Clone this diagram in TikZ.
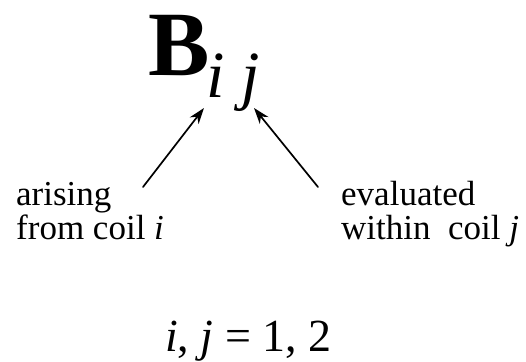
\documentclass[tikz,border=0pt]{standalone}
\usepackage{fontspec}
\setmainfont{Liberation Serif}
\usetikzlibrary{arrows.meta}

\begin{document}
\begin{tikzpicture}[x=1pt,y=-1pt]
\tikzset{
  labeltext/.style={inner sep=0pt,anchor=base west,font=\fontsize{35}{35}\selectfont},
  pointer/.style={draw=black,line width=1.7pt,line cap=round,-{Stealth[length=16pt,width=11pt,inset=5pt]}}
}
\useasboundingbox (0,0) rectangle (526,361);
\node[inner sep=0pt,anchor=base west,font=\fontsize{92}{92}\selectfont\bfseries] (n_B) at (148,75) {B};
\node[inner sep=0pt,anchor=base west,font=\fontsize{66}{66}\selectfont\itshape] (n_ij) at (206,97) {i j};
\node[labeltext] (n_arise1) at (16,205) {arising};
\node[labeltext] (n_arise2) at (16,239) {from coil \textit{i}};
\node[labeltext] (n_eval1) at (341,205) {evaluated};
\node[labeltext] (n_eval2) at (341,239) {within\ \ coil \textit{j}};
\node[inner sep=0pt,anchor=base west,font=\fontsize{46}{46}\selectfont] (n_range) at (165,351) {\textit{i}, \textit{j} = 1, 2};
\coordinate (c_tailL) at (143,187);
\coordinate (c_headL) at (204,108);
\coordinate (c_tailR) at (318,187);
\coordinate (c_headR) at (254,108);
\draw[pointer] (c_tailL) -- (c_headL);
\draw[pointer] (c_tailR) -- (c_headR);
\end{tikzpicture}
\end{document}
